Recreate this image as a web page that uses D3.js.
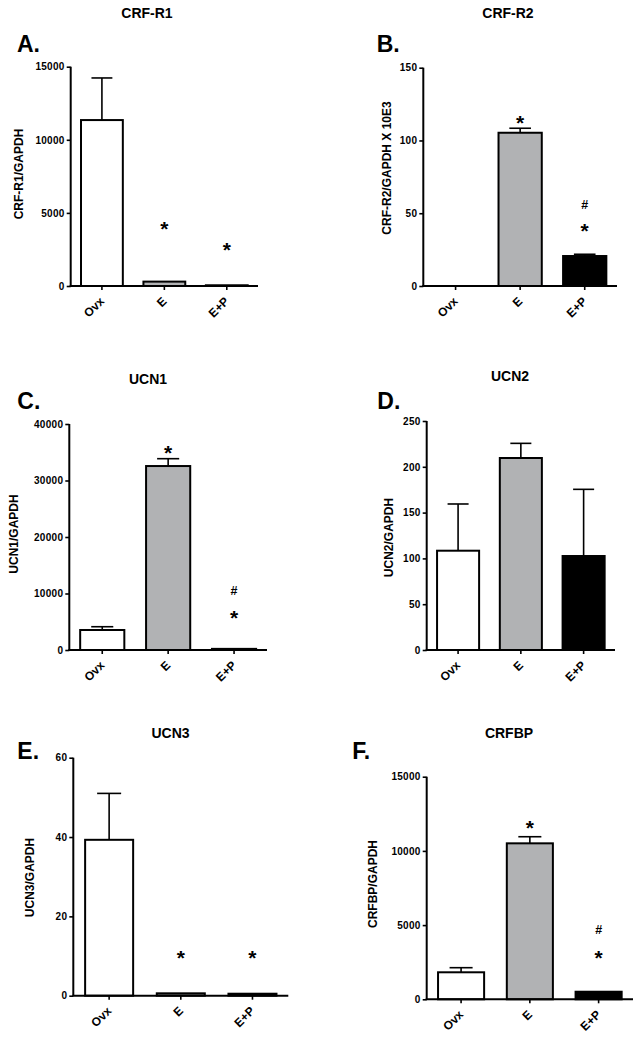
<!DOCTYPE html>
<html><head><meta charset="utf-8">
<script src="https://cdn.jsdelivr.net/npm/d3@7"></script>
<style>
html,body{margin:0;padding:0;background:#fff;}
text{font-family:"Liberation Sans",Arial,sans-serif;font-weight:bold;fill:#000;}
</style></head>
<body><svg id="c" width="641" height="1040"></svg>
<script>
// ---- data ----
const categories = ["Ovx", "E", "E+P"];
const barColors = ["#ffffff", "#b1b2b4", "#000000"];

const titles = ["CRF-R1", "CRF-R2", "UCN1", "UCN2", "UCN3", "CRFBP"];
const letters = ["A.", "B.", "C.", "D.", "E.", "F."];
const yLabels = ["CRF-R1/GAPDH", "CRF-R2/GAPDH X 10E3", "UCN1/GAPDH", "UCN2/GAPDH", "UCN3/GAPDH", "CRFBP/GAPDH"];

const meanCRFR1 = [11350, 300, 50];
const semCRFR1 = [2880, 0, 0];
const meanCRFR2 = [0, 105.3, 20.6];
const semCRFR2 = [0, 3.1, 1.2];
const meanUCN1 = [3540, 32560, 200];
const semUCN1 = [580, 1300, 0];
const meanUCN2 = [108.4, 209.6, 102.6];
const semUCN2 = [51, 16, 72.8];
const meanUCN3 = [39.3, 0.6, 0.5];
const semUCN3 = [11.7, 0, 0];
const meanCRFBP = [1820, 10510, 510];
const semCRFBP = [310, 445, 0];

const ticksCRFR1 = [0, 5000, 10000, 15000];
const ticksCRFR2 = [0, 50, 100, 150];
const ticksUCN1 = [0, 10000, 20000, 30000, 40000];
const ticksUCN2 = [0, 50, 100, 150, 200, 250];
const ticksUCN3 = [0, 20, 40, 60];
const ticksCRFBP = [0, 5000, 10000, 15000];

// significance marks: [symbol, category index, value position]
const marksCRFR1 = [["*", 1, 4240], ["*", 2, 2800]];
const marksCRFR2 = [["*", 1, 115.2], ["#", 2, 56.3], ["*", 2, 41.2]];
const marksUCN1 = [["*", 1, 35750], ["#", 2, 10500], ["*", 2, 6550]];
const marksUCN2 = [];
const marksUCN3 = [["*", 1, 10.7], ["*", 2, 10.7]];
const marksCRFBP = [["*", 1, 11860], ["#", 2, 4670], ["*", 2, 3100]];

const means = [meanCRFR1, meanCRFR2, meanUCN1, meanUCN2, meanUCN3, meanCRFBP];
const sems = [semCRFR1, semCRFR2, semUCN1, semUCN2, semUCN3, semCRFBP];
const ticks = [ticksCRFR1, ticksCRFR2, ticksUCN1, ticksUCN2, ticksUCN3, ticksCRFBP];
const marks = [marksCRFR1, marksCRFR2, marksUCN1, marksUCN2, marksUCN3, marksCRFBP];

// ---- layout ----
const layout = [
  {x0:70.7, x1:258, yTop:66.7, yBot:286, tX:147, tY:18.3, lX:17, lY:51.7, yl:[23, 174]},
  {x0:423.3, x1:617, yTop:67.7, yBot:286, tX:508, tY:18.3, lX:376.7, lY:51.7, yl:[390.5, 168]},
  {x0:69.3, x1:267, yTop:424, yBot:650, tX:148, tY:384, lX:17.3, lY:409, yl:[18, 534]},
  {x0:426.7, x1:615, yTop:421, yBot:650, tX:510, tY:381, lX:377.3, lY:409.3, yl:[393, 537.5]},
  {x0:73.3, x1:288.3, yTop:757.7, yBot:995.7, tX:170.5, tY:737.5, lX:17.3, lY:759, yl:[34, 877.5]},
  {x0:426.7, x1:633, yTop:776.7, yBot:999.3, tX:509, tY:737.5, lX:352.3, lY:759, yl:[376.5, 884]}
];

const svg = d3.select("#c");

layout.forEach((L, i) => {
  const g = svg.append("g");
  const tv = ticks[i];
  const y = d3.scaleLinear().domain([0, d3.max(tv)]).range([L.yBot, L.yTop]);
  const x = d3.scaleBand().domain(categories).range([L.x0, L.x1]).paddingInner(0.33).paddingOuter(0.165);
  const bw = x.bandwidth();

  // title & letter
  g.append("text").attr("x", L.tX).attr("y", L.tY).attr("text-anchor", "middle")
    .style("font-size", "14px").text(titles[i]);
  g.append("text").attr("x", L.lX).attr("y", L.lY).style("font-size", "23px").text(letters[i]);
  g.append("text").attr("transform", `translate(${L.yl[0]},${L.yl[1]}) rotate(-90)`)
    .attr("text-anchor", "middle").style("font-size", "12px").text(yLabels[i]);

  // error bars (upper only)
  categories.forEach((c, j) => {
    const m = means[i][j], s = sems[i][j];
    if (s > 0) {
      const cx = x(c) + bw / 2;
      g.append("line").attr("x1", cx).attr("x2", cx).attr("y1", y(m)).attr("y2", y(m + s))
        .attr("stroke", "#000").attr("stroke-width", 1.6);
      g.append("line").attr("x1", cx - bw / 4).attr("x2", cx + bw / 4).attr("y1", y(m + s)).attr("y2", y(m + s))
        .attr("stroke", "#000").attr("stroke-width", 1.6);
    }
  });

  // bars
  categories.forEach((c, j) => {
    const m = means[i][j];
    if (m <= 0) return;
    g.append("rect").attr("x", x(c)).attr("width", bw)
      .attr("y", y(m)).attr("height", Math.max(0, L.yBot - y(m)))
      .attr("fill", barColors[j]).attr("stroke", "#000").attr("stroke-width", 2);
  });

  // y axis
  const ya = g.append("g").attr("transform", `translate(${L.x0},0)`)
    .call(d3.axisLeft(y).tickValues(tv).tickSize(4).tickPadding(2).tickFormat(d3.format("d")));
  ya.select(".domain").attr("stroke-width", 2).attr("d", `M0,${L.yBot}V${L.yTop}`);
  ya.selectAll(".tick line").attr("stroke-width", 1.6);
  ya.selectAll(".tick text").style("font-size", "10px").style("letter-spacing", "0.3px")
    .style("font-family", "'Liberation Sans', Arial, sans-serif").style("font-weight", "bold");

  // x axis
  const xa = g.append("g").attr("transform", `translate(0,${L.yBot})`)
    .call(d3.axisBottom(x).tickSize(4).tickSizeOuter(0));
  xa.select(".domain").attr("stroke-width", 2).attr("d", `M${L.x0 - 1},0H${L.x1}`);
  xa.selectAll(".tick line").attr("stroke-width", 1.6);
  xa.selectAll(".tick text")
    .attr("y", null).attr("dy", null)
    .attr("text-anchor", "end")
    .attr("transform", "translate(3,16) rotate(-45)")
    .style("font-size", "12px")
    .style("font-family", "'Liberation Sans', Arial, sans-serif").style("font-weight", "bold");

  // significance marks
  marks[i].forEach(mk => {
    const cx = x(categories[mk[1]]) + bw / 2;
    const cy = y(mk[2]);
    if (mk[0] === "*") {
      g.append("text").attr("x", cx).attr("y", cy + 12).attr("text-anchor", "middle")
        .style("font-size", "21px").text("*");
    } else {
      g.append("text").attr("x", cx).attr("y", cy + 4.5).attr("text-anchor", "middle")
        .style("font-size", "12.5px").text("#");
    }
  });
});
</script></body></html>
